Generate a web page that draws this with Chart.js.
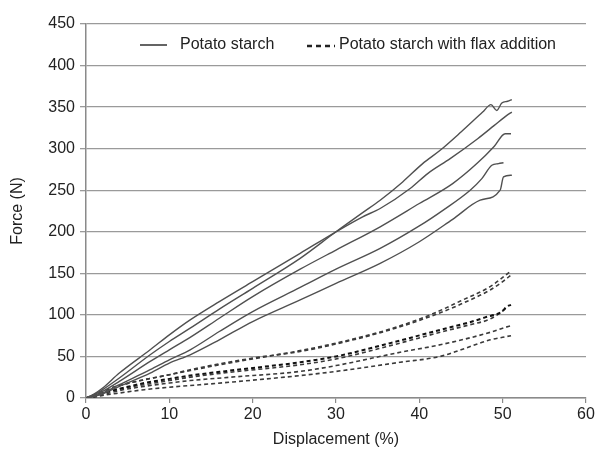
<!DOCTYPE html>
<html>
<head>
<meta charset="utf-8">
<script src="https://cdn.jsdelivr.net/npm/chart.js@4.4.0/dist/chart.umd.min.js"></script>
<style>
  html, body { margin: 0; padding: 0; background: #fff; }
  #wrap { width: 601px; height: 449px; }
</style>
</head>
<body>
<div id="wrap"><canvas id="chart" width="601" height="449"></canvas></div>
<script>
// Force vs displacement curves as [displacement %, force N]

const xTicks = [0, 10, 20, 30, 40, 50, 60];
const yTicks = [0, 50, 100, 150, 200, 250, 300, 350, 400, 450];

const legendLabels = ["Potato starch", "Potato starch with flax addition"];

// Potato starch (solid)
const starch1 = [[0,0],[1,4],[2,10],[4,24],[7.7,52],[10,68],[12.5,84],[16,107],[20,132],[25.7,168],[30,200],[33.2,223],[35.3,238],[38,260],[40.4,282],[42.5,298],[45,320],[47.6,344],[48.6,353],[49.3,346],[49.9,355],[50.6,357],[51.1,359]];
const starch2 = [[0,0],[1,5],[2,12],[4,30],[7.7,58],[10,76],[12.5,94],[16,116],[20,140],[25.7,174],[30,200],[33.2,218],[35.3,228],[38.9,252],[41,270],[43.7,288],[47,312],[49,328],[50.5,340],[51.1,344]];
const starch3 = [[0,0],[1,3],[2,8],[4,20],[7.7,44],[10,58],[12.5,73],[16,96],[20,122],[25.7,155],[30,178],[35.3,206],[40,234],[44,258],[47,283],[49,303],[50.3,318],[51,318]];
const starch4 = [[0,0],[1,2],[2,6],[4,16],[7.7,34],[10,46],[12.5,58],[16,80],[20,104],[25.7,133],[30,155],[35.3,180],[40,207],[43,227],[46.1,250],[47.5,264],[48.7,280],[49.5,282],[50.1,283]];
const starch5 = [[0,0],[1,2],[2,5],[4,14],[7.7,30],[10,42],[12.5,52],[16,70],[20,92],[25.7,118],[30,138],[35.3,162],[40,188],[44,215],[47.3,238],[49.7,250],[50.1,266],[51.1,268]];

// Potato starch with flax addition (dashed)
const flax1 = [[0,0],[1,4],[2,8],[4,15],[7,22],[10,28],[12.5,33],[16,40],[20,47],[25.7,57],[30,66],[36.5,83],[41.3,100],[45,117],[48.5,134],[50,145],[51,153]];
const flax2 = [[0,0],[1,4],[2,8],[4,15],[7,22],[10,28],[12.5,34],[16,41],[20,48],[25.7,56],[30,65],[36.5,82],[41.3,98],[45,113],[48.5,130],[50,140],[51,148]];
const flax3 = [[0,0],[1,3],[2,6],[4,11],[7,18],[10,23],[12.5,27],[17.3,33],[25.7,43],[30,50],[36.5,66],[42.5,82],[46,91],[47.9,97],[49.9,104],[50.5,110],[51,112]];
const flax4 = [[0,0],[1,3],[2,6],[4,11],[7,16],[10,21],[12.5,25],[17.3,31],[25.7,40],[30,47],[36.5,63],[42.5,79],[46,88],[48.5,95],[49.9,104],[50.5,109]];
const flax5 = [[0,0],[1,2],[2,4],[4,9],[7,14],[10,18],[12.5,21],[17.3,25],[25.7,32],[30,39],[37.7,55],[42.5,64],[48.5,79],[50,84],[51,87]];
const flax6 = [[0,0],[1,1],[2,3],[4,6],[7,10],[10,13],[12.5,15],[17.3,19],[25.7,27],[30,32],[37.7,43],[42.5,50],[45,58],[48.5,70],[50,73],[51,75]];

const solidSeries = [starch1, starch2, starch3, starch4, starch5];
const dashedSeries = [flax1, flax2, flax3, flax4, flax5, flax6];

const FONT = "'Liberation Sans', Arial, sans-serif";
const toPoints = arr => arr.map(p => ({ x: p[0], y: p[1] }));

const datasets = [];
solidSeries.forEach(s => {
  datasets.push({
    data: toPoints(s),
    borderColor: "#505050",
    borderWidth: 1.4,
    pointRadius: 0,
    fill: false,
    cubicInterpolationMode: "monotone"
  });
});
dashedSeries.forEach((s, i) => {
  datasets.push({
    data: toPoints(s),
    borderColor: i === 2 ? "#111" : "#3a3a3a",
    borderWidth: i === 2 ? 2 : 1.6,
    borderDash: [4, 3],
    pointRadius: 0,
    fill: false,
    cubicInterpolationMode: "monotone"
  });
});

// legend drawn inside the plot area, like the original figure
const insideLegend = {
  id: "insideLegend",
  afterDraw(chart) {
    const { ctx, chartArea } = chart;
    const y = chartArea.top + 21;
    ctx.save();
    ctx.font = "16px " + FONT;
    ctx.fillStyle = "#222";
    ctx.textBaseline = "middle";

    ctx.strokeStyle = "#222";
    ctx.lineWidth = 1.4;
    ctx.beginPath();
    ctx.moveTo(chartArea.left + 54, y);
    ctx.lineTo(chartArea.left + 81, y);
    ctx.stroke();
    ctx.fillText(legendLabels[0], chartArea.left + 94, y);

    ctx.lineWidth = 2.5;
    ctx.setLineDash([5, 4]);
    ctx.beginPath();
    ctx.moveTo(chartArea.left + 221, y + 1);
    ctx.lineTo(chartArea.left + 249, y + 1);
    ctx.stroke();
    ctx.setLineDash([]);
    ctx.fillText(legendLabels[1], chartArea.left + 253, y);
    ctx.restore();
  }
};

new Chart(document.getElementById("chart"), {
  type: "line",
  data: { datasets },
  options: {
    responsive: false,
    animation: false,
    layout: { padding: { top: 24, right: 15, left: 0, bottom: 0 } },
    plugins: {
      legend: { display: false },
      tooltip: { enabled: false }
    },
    scales: {
      x: {
        type: "linear",
        min: 0,
        max: 60,
        afterBuildTicks: axis => { axis.ticks = xTicks.map(v => ({ value: v })); },
        afterFit: axis => { axis.height = 51; },
        grid: { drawOnChartArea: false, drawTicks: true, tickLength: 5, color: "#8a8a8a", lineWidth: 1.2 },
        border: { color: "#8a8a8a", width: 1.5 },
        ticks: { color: "#222", font: { family: FONT, size: 16 }, padding: 2, maxRotation: 0 },
        title: { display: true, text: "Displacement (%)", color: "#222", font: { family: FONT, size: 16 }, padding: { top: 0, bottom: 0 } }
      },
      y: {
        min: 0,
        max: 450,
        afterBuildTicks: axis => { axis.ticks = yTicks.map(v => ({ value: v })); },
        afterFit: axis => { axis.width = 86; },
        grid: { color: "#9a9a9a", lineWidth: 1.3, tickLength: 6 },
        border: { color: "#8a8a8a", width: 1.5 },
        ticks: { color: "#222", font: { family: FONT, size: 16 }, padding: 5 },
        title: { display: true, text: "Force (N)", color: "#222", font: { family: FONT, size: 16 }, padding: { top: 8, bottom: 0 } }
      }
    }
  },
  plugins: [insideLegend]
});
</script>
</body>
</html>
